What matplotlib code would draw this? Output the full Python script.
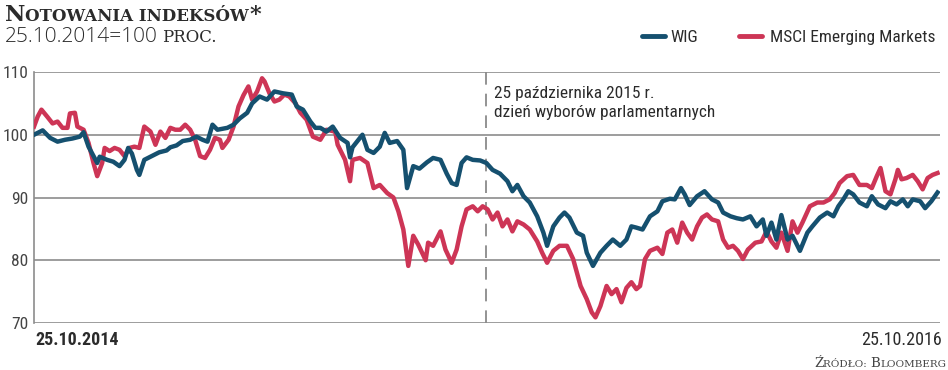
import numpy as np
import matplotlib
matplotlib.use("Agg")
import matplotlib.pyplot as plt

# days counted from 25.10.2014 (=100)
BASE_DATE = np.datetime64('2014-10-25')
END_DATE = np.datetime64('2016-10-25')
ELECTION_DATE = np.datetime64('2015-10-25')

wig_days = [
    0, 7, 13, 19, 25, 31, 37, 40, 44, 51, 53, 59, 64, 69, 73, 76, 79, 83, 85, 89,
    95, 101, 107, 110, 115, 120, 126, 131, 136, 140, 144, 148, 156, 161, 166, 172, 176, 182, 188, 194,
    201, 208, 212, 217, 223, 227,
    231, 236, 241, 247, 253, 255, 257, 265, 269, 274, 279, 283, 287, 293, 298, 301, 306, 311, 317, 322,
    328, 333, 337, 341, 345, 349, 354, 360, 365, 370, 376, 382, 386, 390, 395, 400, 406, 411, 414, 419,
    424, 428, 432, 438, 443, 446, 451, 457, 462, 467, 473, 478, 482,
    486, 491, 497, 503, 507, 513, 517, 522, 525, 529, 535, 541, 547, 552, 556, 562, 567, 572, 578, 583,
    588, 591, 595, 599, 603, 608, 612, 618, 624, 628, 634, 640, 645, 649, 653, 657, 661, 666, 672, 676,
    681, 687, 691, 696, 701, 705, 709, 715, 719, 724, 729,
]
wig_values = [
    100.0, 100.7, 99.5, 98.9, 99.2, 99.4, 99.7, 100.4, 98.1, 95.5, 96.5, 96.0, 95.7, 95.0, 96.0, 97.9, 97.0, 94.4, 93.6, 96.0,
    96.6, 97.2, 97.5, 98.0, 98.3, 99.0, 99.2, 99.7, 99.2, 98.9, 101.6, 100.8, 101.1, 101.6, 102.6, 103.5, 105.0, 106.1, 105.6, 106.9,
    106.6, 106.4, 104.5, 104.0, 102.1, 101.1,
    101.1, 100.5, 101.3, 99.5, 98.7, 96.4, 98.0, 100.0, 97.6, 97.1, 98.1, 100.3, 98.7, 99.0, 97.6, 91.5, 95.0, 94.6, 95.6, 96.3,
    96.0, 93.8, 92.3, 92.0, 95.5, 96.4, 96.0, 95.9, 95.5, 94.4, 93.8, 92.6, 91.0, 92.0, 90.2, 89.2, 87.0, 84.4, 82.3, 85.4,
    86.8, 87.6, 86.8, 84.4, 83.9, 81.2, 79.1, 81.2, 82.3, 83.3, 82.3, 83.3, 85.4,
    85.2, 84.9, 87.0, 87.8, 89.4, 89.8, 89.7, 91.5, 90.5, 88.8, 90.2, 91.0, 89.7, 89.2, 87.6, 87.0, 86.7, 86.5, 87.0, 85.4,
    86.5, 83.9, 86.0, 83.3, 87.2, 83.3, 83.9, 81.5, 84.4, 85.4, 86.8, 87.6, 87.0, 88.6, 89.7, 91.0, 90.5, 89.2, 88.6, 90.2,
    88.9, 88.3, 89.4, 88.9, 89.7, 88.6, 89.7, 89.4, 88.3, 89.4, 90.8,
]

msci_days = [
    0, 3, 6, 11, 15, 19, 23, 27, 29, 33, 35, 40, 44, 48, 51, 55, 57, 61, 65, 69,
    73, 77, 81, 85, 89, 94, 98, 102, 106, 110, 114, 118, 122, 126, 130, 134, 138, 142, 146, 150,
    152, 157, 161, 165, 169, 173, 176, 180, 184, 186, 190, 194, 198, 202, 206, 211, 215, 220, 225,
    231, 236, 243, 245, 251, 255, 257, 263, 269, 274, 279, 285, 290, 294, 298, 302, 306, 310, 316, 318,
    322, 328, 332, 337, 341, 345, 349, 354, 358, 362, 366, 370, 374, 378, 382, 386, 390, 395, 400, 406,
    410, 414, 419, 424, 430, 435, 441, 446, 450, 453, 457, 462, 466, 470, 474, 478, 482,
    486, 489, 493, 497, 503, 507, 511, 515, 519, 523, 527, 531, 535, 539, 543, 547, 552, 556, 560, 564,
    568, 572, 576, 582, 587, 591, 595, 599, 603, 608, 612, 616, 620, 626, 632, 637, 642, 646, 650, 656,
    661, 666, 672, 676, 680, 683, 687, 691, 695, 697, 700, 704, 709, 713, 717, 721, 725, 729,
]
msci_values = [
    101.3, 102.9, 104.0, 102.8, 101.8, 102.1, 101.1, 101.1, 103.4, 103.5, 101.3, 100.8, 98.7, 95.5, 93.4, 95.5, 97.9, 97.4, 97.9, 97.6,
    96.6, 97.9, 98.1, 97.9, 101.3, 100.5, 98.4, 100.5, 99.5, 101.1, 100.8, 100.8, 101.6, 100.8, 99.2, 96.6, 96.3, 97.6, 99.5, 99.2,
    97.9, 99.2, 101.3, 104.5, 106.3, 107.7, 105.6, 106.9, 109.0, 108.5, 106.6, 105.3, 105.6, 106.4, 106.1, 105.0, 103.5, 102.4, 99.7,
    99.2, 100.8, 100.5, 98.4, 96.0, 92.6, 96.0, 96.3, 95.5, 91.5, 92.0, 90.7, 90.0, 87.8, 84.9, 79.1, 83.9, 82.5, 80.0, 82.8,
    82.3, 84.6, 81.7, 79.6, 81.7, 85.4, 88.1, 88.6, 87.8, 88.6, 88.1, 86.5, 87.6, 85.4, 86.5, 84.6, 86.2, 85.7, 84.9, 83.0,
    81.2, 79.6, 81.5, 82.3, 82.3, 80.2, 75.9, 73.8, 71.7, 70.9, 72.7, 75.9, 74.6, 75.4, 73.3, 75.6, 76.5,
    75.4, 75.9, 80.2, 81.5, 82.0, 81.0, 84.4, 84.9, 82.8, 86.0, 84.4, 83.3, 85.4, 86.8, 87.3, 86.5, 86.2, 83.3, 82.0, 82.3,
    81.5, 80.2, 81.7, 82.8, 83.0, 84.6, 83.0, 82.0, 84.4, 81.5, 86.2, 84.4, 86.0, 88.6, 89.2, 89.2, 89.7, 90.7, 92.3, 93.4,
    93.6, 92.0, 92.0, 91.5, 93.4, 94.7, 91.0, 90.5, 92.9, 94.4, 92.9, 93.1, 93.6, 92.6, 91.3, 93.1, 93.6, 93.9,
]

y_ticks = [70, 80, 90, 100, 110]
series_names = ['WIG', 'MSCI Emerging Markets']
note_lines = ['25 października 2015 r.', 'dzień wyborów parlamentarnych']

WIG_COLOR = '#15506f'
MSCI_COLOR = '#cd3556'
GRID_COLOR = '#8c8c8c'
TEXT_COLOR = '#2b2b2b'
NARROW = ['Roboto Condensed', 'Liberation Sans Narrow', 'Roboto']
SERIF = 'DejaVu Serif'

W, H = 948, 370
fig = plt.figure(figsize=(W / 100, H / 100), dpi=100)
renderer = fig.canvas.get_renderer()


def px(x, y):
    return x / W, 1 - y / H


def smallcaps(x, y, text, big, small, ha='left', **kw):
    # fake small caps: capitals at full size, everything else as smaller capitals
    runs = []
    for ch in text:
        size = big if (ch.isupper() or ch == '*') else small
        if runs and runs[-1][1] == size:
            runs[-1][0] += ch.upper()
        else:
            runs.append([ch.upper(), size])
    items = []
    cur = x
    for s, size in runs:
        t = fig.text(*px(cur, y), s, fontsize=size, va='baseline', ha='left', **kw)
        cur += t.get_window_extent(renderer).width
        items.append(t)
    if ha == 'right':
        shift = cur - x
        for t in items:
            tx, ty = t.get_position()
            t.set_position((tx - shift / W, ty))
    return cur


ax = fig.add_axes([34 / W, 1 - 323 / H, (940 - 34) / W, (323 - 72) / H])

msci_dates = BASE_DATE + np.array(msci_days).astype('timedelta64[D]')
wig_dates = BASE_DATE + np.array(wig_days).astype('timedelta64[D]')
ax.plot(msci_dates, msci_values, color=MSCI_COLOR, lw=3.2, solid_joinstyle='round', zorder=3)
ax.plot(wig_dates, wig_values, color=WIG_COLOR, lw=3.2, solid_joinstyle='round', zorder=4)

ax.axvline(ELECTION_DATE, ymin=0, ymax=1.02, color='#8a8a8a', lw=1.3, dashes=(7, 5), clip_on=False, zorder=2)

ax.set_xlim(BASE_DATE, END_DATE)
ax.set_ylim(70, 110)
ax.set_yticks(y_ticks)
ax.set_yticklabels([str(v) for v in y_ticks], fontfamily=NARROW, fontsize=12.5, color='#444444')
ax.tick_params(axis='y', length=0, pad=4)
ax.set_xticks([])
ax.grid(axis='y', color=GRID_COLOR, lw=1.2)
for side in ['top', 'right', 'bottom']:
    ax.spines[side].set_visible(False)
ax.spines['left'].set_color(GRID_COLOR)
ax.spines['left'].set_linewidth(1.2)
ax.set_facecolor('none')

# election note
fig.text(*px(494, 98), note_lines[0], fontfamily=NARROW, fontsize=12.5, color=TEXT_COLOR, va='baseline')
fig.text(*px(494, 117), note_lines[1], fontfamily=NARROW, fontsize=12.5, color=TEXT_COLOR, va='baseline')

# title
smallcaps(5, 21, 'Notowania indeksów*', 16, 12, fontfamily=SERIF, fontweight='bold', color=TEXT_COLOR)
t = fig.text(*px(5, 42), '25.10.2014=100', fontsize=15, fontfamily='Open Sans', fontweight='light',
             va='baseline', color=TEXT_COLOR)
end = 5 + t.get_window_extent(renderer).width
smallcaps(end + 4, 42, 'proc.', 16, 12, fontfamily=SERIF, color=TEXT_COLOR)

# legend
fig.add_artist(plt.Line2D([642 / W, 665 / W], [1 - 36 / H] * 2, color=WIG_COLOR, lw=3.5, solid_capstyle='round'))
fig.text(*px(670, 42), series_names[0], fontfamily=NARROW, fontsize=12.5, va='baseline', color=TEXT_COLOR)
fig.add_artist(plt.Line2D([739 / W, 762 / W], [1 - 36 / H] * 2, color=MSCI_COLOR, lw=3.5, solid_capstyle='round'))
fig.text(*px(770, 42), series_names[1], fontfamily=NARROW, fontsize=12.5, va='baseline', color=TEXT_COLOR)

# date labels under the axis
fig.text(*px(35, 345), '25.10.2014', fontfamily=NARROW, fontweight='bold', fontsize=13,
         va='baseline', ha='left', color=TEXT_COLOR)
fig.text(*px(942, 345), '25.10.2016', fontfamily=NARROW, fontsize=13,
         va='baseline', ha='right', color=TEXT_COLOR)

# source
smallcaps(946, 367, 'Źródło: Bloomberg', 9.5, 7.5, ha='right', fontfamily=SERIF, color='#444444')

fig.savefig('out.png', dpi=100)
